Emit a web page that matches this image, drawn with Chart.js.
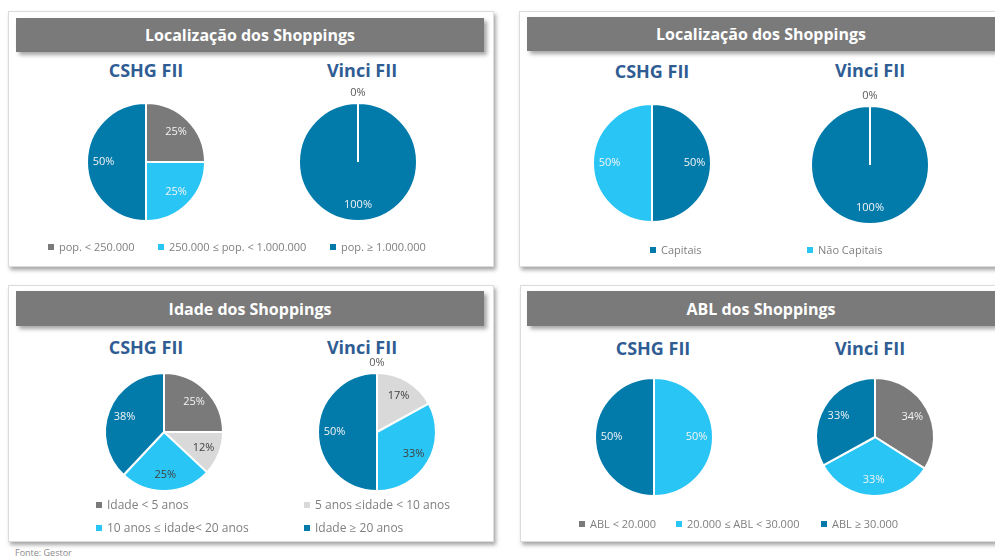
<!DOCTYPE html>
<html>
<head>
<meta charset="utf-8">
<script src="https://cdn.jsdelivr.net/npm/chart.js@4.4.1/dist/chart.umd.min.js"></script>
<style>
  html, body { margin: 0; padding: 0; background: #ffffff; }
  body { width: 995px; height: 556px; position: relative; overflow: hidden; font-family: "Open Sans", "Noto Sans", sans-serif; }
  .card { position: absolute; background: #fff; border: 1px solid #dcdcdc; box-shadow: 2px 3px 4px rgba(0,0,0,0.35); }
  .hdr { position: absolute; background: #7a7a7a; color: #fff; font-weight: bold; font-size: 16px; text-align: center; box-shadow: 3px 3px 4px rgba(0,0,0,0.35); display: flex; align-items: center; justify-content: center; }
  .fund { position: absolute; width: 160px; text-align: center; color: #2f5d93; font-weight: bold; font-size: 18px; line-height: 22px; }
  .pie { position: absolute; width: 160px; height: 160px; }
  .leg { position: absolute; font-size: 11px; color: #7f7f7f; white-space: nowrap; line-height: 14px; }
  .leg i { display: inline-block; width: 6px; height: 6px; margin-right: 5px; vertical-align: 1px; }
  .src { position: absolute; left: 15px; top: 546px; font-size: 9px; color: #8a8a8a; }
</style>
</head>
<body>
<div class="card" style="left:8px;top:11px;width:484px;height:254px"></div>
<div class="card" style="left:519px;top:11px;width:500px;height:254px"></div>
<div class="card" style="left:8px;top:285px;width:484px;height:255px"></div>
<div class="card" style="left:520px;top:285px;width:500px;height:255px"></div>

<div class="hdr" id="h1" style="left:16px;top:18px;width:468px;height:34px"></div>
<div class="hdr" id="h2" style="left:527px;top:17px;width:468px;height:34px"></div>
<div class="hdr" id="h3" style="left:16px;top:291px;width:468px;height:35px"></div>
<div class="hdr" id="h4" style="left:527px;top:291px;width:468px;height:35px"></div>

<div class="fund" id="f1" style="left:66px;top:59px"></div>
<div class="fund" id="f2" style="left:282px;top:59px"></div>
<div class="fund" id="f3" style="left:572px;top:60px"></div>
<div class="fund" id="f4" style="left:790px;top:59px"></div>
<div class="fund" id="f5" style="left:66px;top:336px"></div>
<div class="fund" id="f6" style="left:282px;top:336px"></div>
<div class="fund" id="f7" style="left:573px;top:337px"></div>
<div class="fund" id="f8" style="left:790px;top:337px"></div>

<div class="pie" style="left:66px;top:82px"><canvas id="c1"></canvas></div>
<div class="pie" style="left:278px;top:82px"><canvas id="c2"></canvas></div>
<div class="pie" style="left:572px;top:83px"><canvas id="c3"></canvas></div>
<div class="pie" style="left:790px;top:85px"><canvas id="c4"></canvas></div>
<div class="pie" style="left:84px;top:352px"><canvas id="c5"></canvas></div>
<div class="pie" style="left:297px;top:352px"><canvas id="c6"></canvas></div>
<div class="pie" style="left:574px;top:357px"><canvas id="c7"></canvas></div>
<div class="pie" style="left:795px;top:357px"><canvas id="c8"></canvas></div>

<div id="legends"></div>
<div class="src">Fonte: Gestor</div>

<script>
// ---------- DATA ----------
const panelTitles = ['Localização dos Shoppings', 'Localização dos Shoppings', 'Idade dos Shoppings', 'ABL dos Shoppings'];
const fundNames = ['CSHG FII', 'Vinci FII'];

const popCategories = ['pop. < 250.000', '250.000 ≤ pop. < 1.000.000', 'pop. ≥ 1.000.000'];
const popCSHG = [25, 25, 50];
const popVinci = [0, 0, 100];

const capCategories = ['Capitais', 'Não Capitais'];
const capCSHG = [50, 50];
const capVinci = [100, 0];

const idadeCategories = ['Idade < 5 anos', '5 anos ≤idade < 10 anos', '10 anos ≤ idade< 20 anos', 'Idade ≥ 20 anos'];
const idadeCSHG = [25, 12, 25, 38];
const idadeVinci = [0, 17, 33, 50];

const ablCategories = ['ABL < 20.000', '20.000 ≤ ABL < 30.000', 'ABL ≥ 30.000'];
const ablCSHG = [0, 50, 50];
const ablVinci = [34, 33, 33];

// ---------- STYLE ----------
const GRAY = '#7a7a7a', LGRAY = '#d9d9d9', LBLUE = '#29c5f5', DBLUE = '#027bab';
const WHITE_TXT = '#f4f4f4', DARK_TXT = '#404040';

document.getElementById('h1').textContent = panelTitles[0];
document.getElementById('h2').textContent = panelTitles[1];
document.getElementById('h3').textContent = panelTitles[2];
document.getElementById('h4').textContent = panelTitles[3];
for (let i = 1; i <= 8; i++) document.getElementById('f' + i).textContent = fundNames[(i - 1) % 2];

const pctLabels = {
  id: 'pctLabels',
  afterDatasetsDraw(chart, args, opts) {
    const ctx = chart.ctx;
    const meta = chart.getDatasetMeta(0);
    const data = chart.data.datasets[0].data;
    ctx.save();
    ctx.font = '11px "Open Sans", "Noto Sans", sans-serif';
    ctx.textAlign = 'center';
    ctx.textBaseline = 'middle';
    let zeroDrawn = false;
    meta.data.forEach((arc, i) => {
      const v = data[i];
      const p = arc.getProps(['x', 'y', 'startAngle', 'endAngle', 'outerRadius'], true);
      const mid = (p.startAngle + p.endAngle) / 2;
      if (v === 0) {
        if (!opts.showZero || zeroDrawn) return;
        zeroDrawn = true;
        const r = p.outerRadius + 10;
        ctx.fillStyle = '#595959';
        ctx.fillText('0%', p.x + Math.cos(mid) * r, p.y + Math.sin(mid) * r);
        return;
      }
      const r = p.outerRadius * 0.72;
      ctx.fillStyle = (opts.textColors && opts.textColors[i]) || WHITE_TXT;
      ctx.fillText(v + '%', p.x + Math.cos(mid) * r, p.y + Math.sin(mid) * r);
    });
    ctx.restore();
  }
};

function makePie(id, labels, values, colors, showZero, textColors) {
  new Chart(document.getElementById(id), {
    type: 'pie',
    data: { labels: labels, datasets: [{ data: values, backgroundColor: colors, borderColor: '#ffffff', borderWidth: 2 }] },
    options: {
      responsive: true, maintainAspectRatio: false, animation: false,
      layout: { padding: 20 },
      plugins: { legend: { display: false }, tooltip: { enabled: false }, pctLabels: { showZero: showZero, textColors: textColors } }
    },
    plugins: [pctLabels]
  });
}

const popColors = [GRAY, LBLUE, DBLUE];
const capColors = [DBLUE, LBLUE];
const idadeColors = [GRAY, LGRAY, LBLUE, DBLUE];
const ablColors = [GRAY, LBLUE, DBLUE];
const idadeText = [WHITE_TXT, DARK_TXT, DARK_TXT, WHITE_TXT];

makePie('c1', popCategories, popCSHG, popColors, true);
makePie('c2', popCategories, popVinci, popColors, true);
makePie('c3', capCategories, capCSHG, capColors, true);
makePie('c4', capCategories, capVinci, capColors, true);
makePie('c5', idadeCategories, idadeCSHG, idadeColors, true, idadeText);
makePie('c6', idadeCategories, idadeVinci, idadeColors, true, idadeText);
makePie('c7', ablCategories, ablCSHG, ablColors, false);
makePie('c8', ablCategories, ablVinci, ablColors, true);

// ---------- LEGENDS ----------
const legHost = document.getElementById('legends');
function legend(text, color, x, y, size) {
  const d = document.createElement('div');
  d.className = 'leg';
  d.style.left = x + 'px';
  d.style.top = y + 'px';
  if (size) d.style.fontSize = size + 'px';
  d.innerHTML = '<i style="background:' + color + '"></i>';
  d.appendChild(document.createTextNode(text));
  legHost.appendChild(d);
}
legend(popCategories[0], GRAY, 48, 240);
legend(popCategories[1], LBLUE, 158, 240);
legend(popCategories[2], DBLUE, 330, 240);

legend(capCategories[0], DBLUE, 650, 243);
legend(capCategories[1], LBLUE, 807, 243);

legend(idadeCategories[0], GRAY, 96, 498, 12);
legend(idadeCategories[1], LGRAY, 304, 498, 12);
legend(idadeCategories[2], LBLUE, 96, 521, 12);
legend(idadeCategories[3], DBLUE, 304, 521, 12);

legend(ablCategories[0], GRAY, 579, 517);
legend(ablCategories[1], LBLUE, 676, 517);
legend(ablCategories[2], DBLUE, 821, 517);
</script>
</body>
</html>
